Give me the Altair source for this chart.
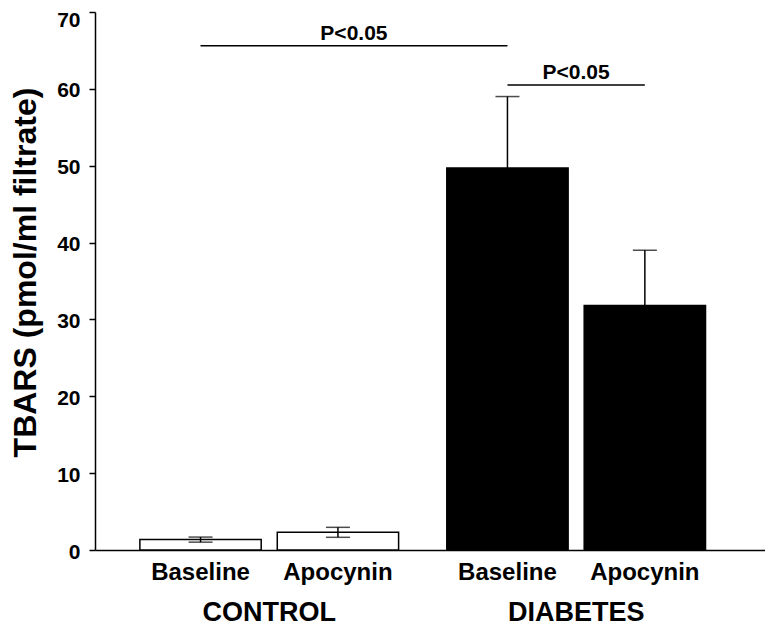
import altair as alt
import pandas as pd

# ---- data ----
groups = ["CONTROL", "CONTROL", "DIABETES", "DIABETES"]
treatments = ["Baseline", "Apocynin", "Baseline", "Apocynin"]
means = [1.35, 2.3, 49.7, 31.8]
errors = [0.33, 0.65, 9.3, 7.2]

bracket_ids = ["A", "A", "B", "B"]
bracket_groups = ["CONTROL", "DIABETES", "DIABETES", "DIABETES"]
bracket_treatments = ["Baseline", "Baseline", "Baseline", "Apocynin"]
bracket_levels = [65.6, 65.6, 60.5, 60.5]
bracket_labels = ["P<0.05", "P<0.05"]

group_order = ["CONTROL", "DIABETES"]
treat_order = ["Baseline", "Apocynin"]
y_ticks = [0, 10, 20, 30, 40, 50, 60, 70]
y_title = "TBARS (pmol/ml filtrate)"

FONT = "Liberation Sans"
W, H = 670, 538

df = pd.DataFrame({"group": groups, "treatment": treatments, "mean": means, "err": errors})
df["lo"] = df["mean"] - df["err"]
df["hi"] = df["mean"] + df["err"]

br = pd.DataFrame({"id": bracket_ids, "group": bracket_groups,
                   "treatment": bracket_treatments, "level": bracket_levels})

x_enc = alt.X("group:N", sort=group_order,
              scale=alt.Scale(paddingInner=0.157, paddingOuter=0.17, align=0.43),
              axis=alt.Axis(title=None, labelAngle=0, ticks=False, tickSize=0,
                            labelPadding=70, labelBaseline="alphabetic",
                            labelFontSize=27, labelFontWeight="bold",
                            labelFont=FONT, labelColor="black",
                            domainColor="black", domainWidth=1.5))
xo_enc = alt.XOffset("treatment:N", sort=treat_order,
                     scale=alt.Scale(paddingInner=0.117, paddingOuter=0))

y_scale = alt.Scale(domain=[0, 70], nice=False)
y_axis = alt.Axis(values=y_ticks, title=y_title, grid=False,
                  tickSize=6, tickWidth=1.5, tickColor="black",
                  domainColor="black", domainWidth=1.5,
                  labelFontSize=21, labelFontWeight="bold", labelFont=FONT,
                  labelColor="black", labelPadding=9,
                  labelOffset=alt.condition("datum.value == 70", alt.value(8), alt.value(2)),
                  titleFontSize=32, titleFontWeight="bold", titleFont=FONT,
                  titleColor="black", titlePadding=5, titleY=260, titleX=-53)

bars = alt.Chart(df).mark_bar(stroke="black", strokeWidth=1.5).encode(
    x=x_enc, xOffset=xo_enc,
    y=alt.Y("mean:Q", scale=y_scale, axis=y_axis),
    fill=alt.Fill("group:N", scale=alt.Scale(domain=group_order, range=["white", "black"]),
                  legend=None),
)

err_rule = alt.Chart(df).mark_rule(color="black", strokeWidth=1.5).encode(
    x=x_enc, xOffset=xo_enc,
    y=alt.Y("lo:Q", scale=y_scale, title=y_title), y2="hi:Q",
)

cap_hi = alt.Chart(df).mark_tick(color="black", size=24, thickness=1.5).encode(
    x=x_enc, xOffset=xo_enc, y=alt.Y("hi:Q", scale=y_scale, title=y_title),
)
cap_lo = alt.Chart(df).mark_tick(color="black", size=24, thickness=1.5).encode(
    x=x_enc, xOffset=xo_enc, y=alt.Y("lo:Q", scale=y_scale, title=y_title),
)

brackets = alt.Chart(br).mark_line(color="black", strokeWidth=1.5).encode(
    x=x_enc, xOffset=xo_enc,
    y=alt.Y("level:Q", scale=y_scale, title=y_title),
    detail="id:N",
)

lab_a = alt.Chart(pd.DataFrame({"group": ["CONTROL"], "treatment": ["Apocynin"],
                                "level": [bracket_levels[0]], "label": [bracket_labels[0]]})
                  ).mark_text(font=FONT, fontSize=21, fontWeight="bold", color="black",
                              baseline="alphabetic", dx=16, dy=-6).encode(
    x=x_enc, xOffset=xo_enc,
    y=alt.Y("level:Q", scale=y_scale, title=y_title), text="label:N",
)
lab_b = alt.Chart(pd.DataFrame({"group": ["DIABETES"], "level": [bracket_levels[2]],
                                "label": [bracket_labels[1]]})
                  ).mark_text(font=FONT, fontSize=21, fontWeight="bold", color="black",
                              baseline="alphabetic", dy=-6).encode(
    x=x_enc,
    y=alt.Y("level:Q", scale=y_scale, title=y_title), text="label:N",
)

treat_labels = alt.Chart(df).mark_text(font=FONT, fontSize=24, fontWeight="bold",
                                       color="black", baseline="alphabetic").encode(
    x=x_enc, xOffset=xo_enc, y=alt.value(H + 30), text="treatment:N",
)

chart = alt.layer(bars, err_rule, cap_lo, cap_hi, brackets, lab_a, lab_b, treat_labels).properties(
    width=W, height=H,
    autosize=alt.AutoSizeParams(type="none"),
    padding={"left": 87, "top": 4, "right": 0, "bottom": 78},
    background="white",
).configure_view(stroke=None)

chart.save("out.html", embed_options={"renderer": "svg", "actions": False})
